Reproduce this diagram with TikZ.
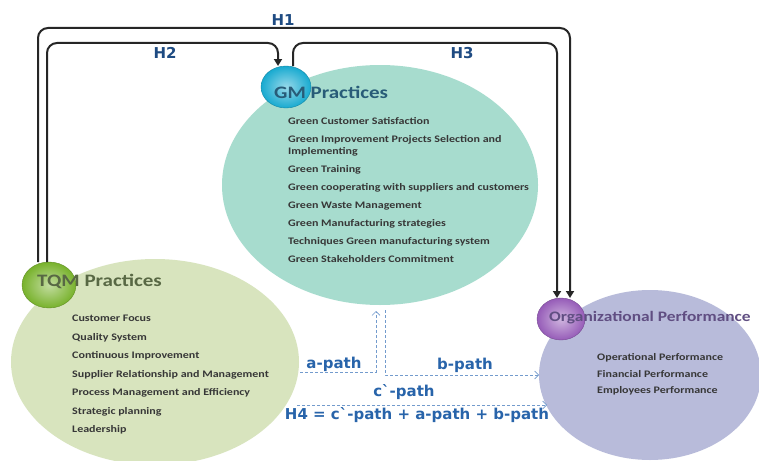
\documentclass[tikz,border=0pt]{standalone}
\usepackage{fontspec}
\usepackage{tikz}
\usetikzlibrary{positioning,shapes.geometric,arrows.meta}

\newfontfamily\calfont[FakeStretch=1.2]{Carlito}
\newfontfamily\pathfont{DejaVu Sans}

\definecolor{gmfill}{RGB}{167,220,206}
\definecolor{tqmfill}{RGB}{216,228,190}
\definecolor{orgfill}{RGB}{184,187,218}
\definecolor{gmballc}{RGB}{24,170,208}
\definecolor{tqmballc}{RGB}{120,178,44}
\definecolor{orgballc}{RGB}{150,92,184}
\definecolor{gmtext}{RGB}{40,92,120}
\definecolor{tqmtext}{RGB}{88,104,68}
\definecolor{orgtext}{RGB}{96,78,130}
\definecolor{itemtext}{RGB}{55,55,55}
\definecolor{hblue}{RGB}{30,75,130}
\definecolor{pathblue}{RGB}{40,100,170}
\definecolor{dashblue}{RGB}{115,155,205}

\tikzset{
  bigoval/.style={ellipse, inner sep=0pt, outer sep=0pt},
  bubble/.style={ellipse, inner sep=0pt, outer sep=0pt, shading=radial},
  headline/.style={anchor=base west, inner sep=0pt, font=\calfont\bfseries\fontsize{17.5}{20}\selectfont},
  itemlist/.style={anchor=base west, inner sep=0pt, align=left, text=itemtext, font=\calfont\bfseries\fontsize{10}{12}\selectfont},
  hyp/.style={draw=black!85, line width=2pt, rounded corners=10pt, -{Triangle[length=7pt,width=8pt]}},
  hlabel/.style={text=hblue, inner sep=0pt, font=\pathfont\bfseries\fontsize{15}{18}\selectfont},
  pathlabel/.style={text=pathblue, inner sep=0pt, font=\pathfont\bfseries\fontsize{15}{18}\selectfont},
  pathline/.style={draw=dashblue, line width=0.6pt, dash pattern=on 3pt off 2pt, -{Straight Barb[length=4pt,width=8pt]}}
}

\begin{document}
\begin{tikzpicture}[x=1pt,y=-1pt]
  % Set the canvas
  \fill[white] (0,0) rectangle (759,460);
  \useasboundingbox (0,0) rectangle (759,460);

  % Set the levels of the hypothesis lines
  \def\hOuter{28}
  \def\hInner{43}

  % Draw the big ovals
  \node[bigoval, fill=gmfill, minimum width=316pt, minimum height=240pt] (gm) at (380,185) {};
  \node[bigoval, fill=tqmfill, minimum width=288pt, minimum height=206pt] (tqm) at (155,362) {};
  \node[bigoval, fill=orgfill, minimum width=222pt, minimum height=170pt] (org) at (650,375) {};

  % Draw the small balls
  \node[bubble, inner color=gmballc!45!white, outer color=gmballc, draw=gmballc!80!black, thin, minimum width=50pt, minimum height=42pt] (gmball) at (286,87) {};
  \node[bubble, inner color=tqmballc!45!white, outer color=tqmballc, draw=tqmballc!80!black, thin, minimum width=54pt, minimum height=46pt] (tqmball) at (49,285) {};
  \node[bubble, inner color=orgballc!45!white, outer color=orgballc, draw=orgballc!80!black, thin, minimum width=48pt, minimum height=42pt] (orgball) at (561,319) {};

  % Add the titles
  \node[headline, text=gmtext] (gmtitle) at (274,98.6) {GM Practices};
  \node[headline, text=tqmtext] (tqmtitle) at (37,286.6) {TQM Practices};
  \node[headline, text=orgtext, font=\calfont\bfseries\fontsize{14.5}{17}\selectfont] (orgtitle) at (549,321.7) {Organizational Performance};

  % Add the lists (placed by the baseline of the last line)
  \node[itemlist] (gmlist) at (288,262.5) {Green Customer Satisfaction\\[6pt]
    Green Improvement Projects Selection and\\
    Implementing\\[6pt]
    Green Training\\[6pt]
    Green cooperating with suppliers and customers\\[6pt]
    Green Waste Management\\[6pt]
    Green Manufacturing strategies\\[6pt]
    Techniques Green manufacturing system\\[6pt]
    Green Stakeholders Commitment};
  \node[itemlist] (tqmlist) at (72,432.5) {Customer Focus\\[6.5pt]
    Quality System\\[6.5pt]
    Continuous Improvement\\[6.5pt]
    Supplier Relationship and Management\\[6.5pt]
    Process Management and Efficiency\\[6.5pt]
    Strategic planning\\[6.5pt]
    Leadership};
  \node[itemlist] (orglist) at (597,393.5) {Operational Performance\\[4.5pt]
    Financial Performance\\[4.5pt]
    Employees Performance};

  % Draw the hypothesis arrows
  \draw[hyp] ([xshift=-11pt]tqmball.north) -- (38,\hOuter) -- (570,\hOuter) -- ([xshift=9pt]orgball.north);
  \draw[hyp] ([xshift=-2pt]tqmball.north) -- (47,\hInner) -- (278,\hInner) -- ([xshift=-8pt]gmball.north);
  \draw[hyp] ([xshift=7pt]gmball.north) -- (293,\hInner) -- (557,\hInner) -- ([xshift=-4pt]orgball.north);
  \node[hlabel] (h1) at (283,20) {H1};
  \node[hlabel] (h2) at (165,53) {H2};
  \node[hlabel] (h3) at (462,53) {H3};

  % Draw the dashed paths
  \coordinate (atail) at (300,372);
  \coordinate (ahead) at (376,311);
  \coordinate (btail) at (385,310);
  \coordinate (ctail) at (297,405);
  \coordinate (chead) at (547,405);
  \draw[pathline] (atail) -| (ahead);
  \draw[pathline] (btail) |- (org.west);
  \draw[pathline] (ctail) -- (chead);
  \node[pathlabel] (alabel) at (334,364) {a-path};
  \node[pathlabel] (blabel) at (465,365) {b-path};
  \node[pathlabel] (clabel) at (404,392) {c`-path};
  \node[pathlabel] (hfour) at (417,415) {H4 = c`-path + a-path + b-path};

\end{tikzpicture}
\end{document}
